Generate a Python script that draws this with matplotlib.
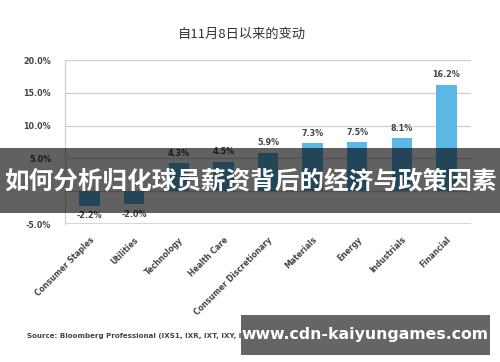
import matplotlib
matplotlib.use("Agg")
import matplotlib.pyplot as plt
from matplotlib.patches import Rectangle

categories = ["Consumer Staples", "Utilities", "Technology", "Health Care",
              "Consumer Discretionary", "Materials", "Energy", "Industrials", "Financial"]
values = [-2.2, -2.0, 4.3, 4.5, 5.9, 7.3, 7.5, 8.1, 16.2]
yticks = [-5, 0, 5, 10, 15, 20]
ytick_labels = ["-5.0%", "", "5.0%", "10.0%", "15.0%", "20.0%"]
title = "自11月8日以来的变动"
banner = "如何分析归化球员薪资背后的经济与政策因素"
watermark = "www.cdn-kaiyungames.com"
source = "Source: Bloomberg Professional (IXS1, IXR, IXT, IXY, IX"

plt.rcParams['font.family'] = ['DejaVu Sans', 'Noto Sans CJK SC']

fig = plt.figure(figsize=(5.0, 3.62), dpi=100)
ax = fig.add_axes([0.13, 0.381, 0.812, 0.453])

n = len(categories)
x = list(range(n))
ax.bar(x, values, width=0.46, color="#5bb7e6", zorder=3)
ax.set_xlim(-0.55, n - 0.45)
ax.set_ylim(-5, 20)
ax.set_yticks(yticks)
ax.set_yticklabels(ytick_labels, fontsize=5.8, fontweight='bold', color="#444444")
for t in yticks:
    if t == -5:
        continue
    ax.axhline(t, color="#cfcfcf", lw=0.9, zorder=1)
ax.axhline(-5, color="#d2d2d2", lw=2.0, zorder=2)
for s in ["top", "right", "bottom"]:
    ax.spines[s].set_visible(False)
ax.spines["left"].set_color("#d0d0d0")
ax.spines["left"].set_linewidth(0.9)
ax.tick_params(axis='y', length=0, pad=10)
ax.tick_params(axis='x', length=0, pad=8)
ax.set_xticks(x)
ax.set_xticklabels(categories, rotation=45, ha='right', rotation_mode='anchor',
                   fontsize=5.6, fontweight='bold', color="#444444")

for xi, v in zip(x, values):
    if v >= 0:
        ax.annotate(f"{v:.1f}%", (xi, v), xytext=(0, 4), textcoords='offset points',
                    ha='center', va='bottom', fontsize=5.8, fontweight='bold', color="#444444")
    else:
        ax.annotate(f"{v:.1f}%", (xi, v), xytext=(0, -4), textcoords='offset points',
                    ha='center', va='top', fontsize=5.8, fontweight='bold', color="#444444")

fig.text(0.484, 0.905, title, ha='center', va='center', fontsize=9.5,
         color="#333333", family=['Noto Sans CJK SC', 'DejaVu Sans'])

fig.text(0.054, 0.073, source, ha='left', va='center', fontsize=5.1,
         fontweight='bold', color="#444444")

# overlay banner
fig.patches.append(Rectangle((0, 1 - 213 / 362), 1, 65 / 362, transform=fig.transFigure,
                             facecolor="black", alpha=0.62, zorder=10))
fig.text(0.5, 1 - 181 / 362, banner, ha='center', va='center', fontsize=17.7,
         fontweight='bold', color="white", zorder=11,
         family=['Noto Sans CJK SC', 'DejaVu Sans'])

# watermark box
fig.patches.append(Rectangle((241 / 500, 1 - 355 / 362), 249 / 500, 40 / 362,
                             transform=fig.transFigure, facecolor="#656565", zorder=10))
fig.text(365 / 500, 1 - 335 / 362, watermark, ha='center', va='center', fontsize=11.3,
         fontweight='bold', color="white", zorder=11, family=['DejaVu Sans'])

fig.savefig("out.png", dpi=100, facecolor="white")
